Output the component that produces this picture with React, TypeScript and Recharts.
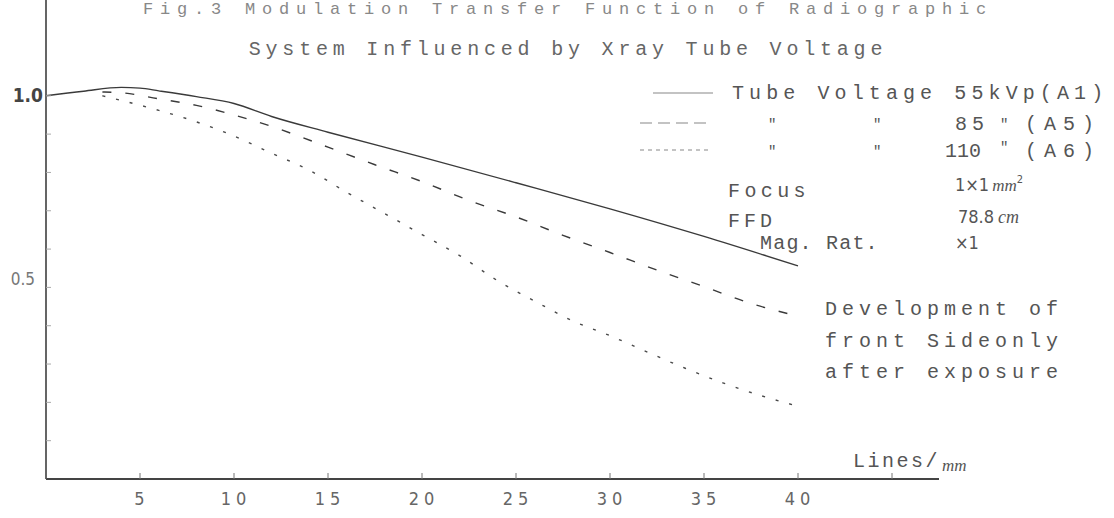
import React from 'react';
import { LineChart, Line, XAxis, YAxis, Customized } from 'recharts';

// ---- data ----
const x55 = [0, 2, 4, 5, 6, 8, 10, 12, 15, 20, 25, 30, 35, 40];
const y55 = [1.0, 1.012, 1.022, 1.02, 1.013, 0.998, 0.98, 0.946, 0.905, 0.84, 0.773, 0.705, 0.633, 0.556];

const x85 = [3, 4, 6, 8, 10, 12, 15, 17.5, 20, 22.5, 25, 27.5, 30, 32.5, 35, 37.5, 40];
const y85 = [1.01, 1.008, 0.992, 0.975, 0.95, 0.92, 0.866, 0.82, 0.776, 0.727, 0.684, 0.636, 0.591, 0.545, 0.502, 0.458, 0.425];

const x110 = [3, 4, 6, 8, 10, 12, 14, 16, 18, 20, 22, 24, 26, 28, 30, 32, 34, 36, 38, 40];
const y110 = [1.0, 0.988, 0.962, 0.932, 0.895, 0.85, 0.806, 0.748, 0.693, 0.638, 0.583, 0.518, 0.464, 0.413, 0.374, 0.331, 0.289, 0.251, 0.218, 0.19];

const xTicks = [5, 10, 15, 20, 25, 30, 35, 40, 45];
const xTickLabels = ['5', '10', '15', '20', '25', '30', '35', '40', ''];
const yTicks = [0.1, 0.2, 0.3, 0.4, 0.5, 0.6, 0.7, 0.8, 0.9, 1.0];
const yTickLabels = ['', '', '', '', '0.5', '', '', '', '', '1.0'];

const titleLine1 = 'Fig.3 Modulation Transfer Function of Radiographic';
const titleLine2 = 'System Influenced by Xray Tube Voltage';

const data55 = x55.map((x, i) => ({ x, v: y55[i] }));
const data85 = x85.map((x, i) => ({ x, v: y85[i] }));
const data110 = x110.map((x, i) => ({ x, v: y110[i] }));

const TYPE = "'Liberation Mono', 'DejaVu Sans Mono', monospace";
const NUM = "'Liberation Sans Narrow', 'DejaVu Sans Condensed', 'Liberation Sans', sans-serif";
const TXT = '#555';
const LINE = '#3a3a3a';

const DASH85 = '9 14';
const DASH110 = '3 11';

const XTick = (props: any) => {
  const { x, y, payload } = props;
  const label = xTickLabels[xTicks.indexOf(payload.value)] ?? '';
  return (
    <g>
      <line x1={x} x2={x} y1={y} y2={y - 6} stroke="#777" strokeWidth={1} />
      {label && (
        <text x={x + 2} y={y + 26} textAnchor="middle" fontFamily={NUM} fontSize={18} letterSpacing={5} fill="#666">
          {label}
        </text>
      )}
    </g>
  );
};

const YTick = (props: any) => {
  const { x, y, payload } = props;
  const idx = yTicks.findIndex((t) => Math.abs(t - payload.value) < 1e-6);
  const label = idx >= 0 ? yTickLabels[idx] : '';
  const strong = label === '1.0';
  return (
    <g>
      <line x1={x} x2={x + 5} y1={y} y2={y} stroke="#aaa" strokeWidth={1} />
      {label && (
        <text
          x={strong ? x - 3 : x - 11}
          y={strong ? y + 6 : y - 2}
          textAnchor="end"
          fontFamily={NUM}
          fontSize={strong ? 19 : 17}
          fontWeight={strong ? 700 : 400}
          fill={strong ? '#444' : '#777'}
        >
          {label}
        </text>
      )}
    </g>
  );
};

const T = (p: any) => (
  <text
    x={p.x}
    y={p.y}
    fontFamily={p.font ?? TYPE}
    fontSize={p.size ?? 20}
    letterSpacing={p.ls ?? 5}
    fill={p.fill ?? TXT}
    textAnchor={p.anchor ?? 'start'}
    fontStyle={p.italic ? 'italic' : 'normal'}
  >
    {p.children}
  </text>
);

const Annotations = () => (
  <g>
    {/* titles */}
    <T x={568} y={14} anchor="middle" size={17} ls={6.8} fill="#888">{titleLine1}</T>
    <T x={568} y={55} anchor="middle" ls={4.8} fill="#666">{titleLine2}</T>

    {/* legend */}
    <line x1={653} x2={713} y1={93} y2={93} stroke="#888" strokeWidth={1.2} />
    <T x={732} y={99} ls={5.1}>Tube Voltage 55kVp(A1)</T>

    <line x1={640} x2={712} y1={123} y2={123} stroke="#888" strokeWidth={1.2} strokeDasharray="12 6" />
    <T x={768} y={129} size={14} ls={0}>″</T>
    <T x={873} y={129} size={14} ls={0}>″</T>
    <T x={955} y={130} ls={5}>85</T>
    <T x={1000} y={129} size={14} ls={0}>″</T>
    <T x={1025} y={130} ls={7}>(A5)</T>

    <line x1={640} x2={712} y1={150} y2={150} stroke="#888" strokeWidth={1.2} strokeDasharray="4 4" />
    <T x={768} y={156} size={14} ls={0}>″</T>
    <T x={873} y={156} size={14} ls={0}>″</T>
    <T x={945} y={157} ls={0}>110</T>
    <T x={1000} y={152} size={14} ls={0}>″</T>
    <T x={1025} y={157} ls={7}>(A6)</T>

    {/* conditions */}
    <T x={728} y={197} ls={4.4}>Focus</T>
    <text x={955} y={191} fontFamily={NUM} fontSize={18} fill={TXT}>
      1×1
      <tspan fontFamily="'Liberation Serif', serif" fontStyle="italic" fontSize={17} dx={3}>mm</tspan>
      <tspan fontSize={11} dy={-8}>2</tspan>
    </text>
    <T x={728} y={227} ls={4}>FFD</T>
    <text x={958} y={223} fontFamily={NUM} fontSize={18} fill={TXT}>
      78.8
      <tspan fontFamily="'Liberation Serif', serif" fontStyle="italic" fontSize={18} dx={4}>cm</tspan>
    </text>
    <T x={760} y={249} ls={1.2}>Mag. Rat.</T>
    <text x={955} y={249} fontFamily={NUM} fontSize={18} fill={TXT}>×1</text>

    {/* development note */}
    <T x={825} y={315} ls={5}>Development of</T>
    <T x={825} y={347} ls={5}>front Sideonly</T>
    <T x={825} y={378} ls={5}>after exposure</T>

    {/* axis title */}
    <T x={853} y={467} ls={2.5}>Lines/</T>
    <text x={942} y={471} fontFamily="'Liberation Serif', serif" fontStyle="italic" fontSize={17} fill={TXT}>mm</text>
  </g>
);

export default function App() {
  return (
    <div style={{ position: 'absolute', left: 0, top: 0, width: 1114, height: 518, background: '#fff' }}>
      <LineChart width={1114} height={518} margin={{ top: 0, right: 175, bottom: 0, left: 0 }}>
        <XAxis
          type="number"
          dataKey="x"
          domain={[0, 47.5]}
          ticks={xTicks}
          tick={<XTick />}
          tickSize={0}
          tickMargin={0}
          height={39}
          axisLine={{ stroke: '#444', strokeWidth: 2 }}
          allowDataOverflow
        />
        <YAxis
          type="number"
          domain={[0, 1.25]}
          ticks={yTicks}
          tick={<YTick />}
          tickSize={0}
          tickMargin={0}
          width={46}
          axisLine={{ stroke: '#555', strokeWidth: 1.8 }}
          allowDataOverflow
        />
        <Line data={data55} dataKey="v" type="monotone" stroke={LINE} strokeWidth={1.4} dot={false} isAnimationActive={false} />
        <Line data={data85} dataKey="v" type="monotone" stroke={LINE} strokeWidth={1.4} strokeDasharray={DASH85} dot={false} isAnimationActive={false} />
        <Line data={data110} dataKey="v" type="monotone" stroke="#4a4a4a" strokeWidth={1.4} strokeDasharray={DASH110} dot={false} isAnimationActive={false} />
        <Customized component={Annotations} />
      </LineChart>
    </div>
  );
}
